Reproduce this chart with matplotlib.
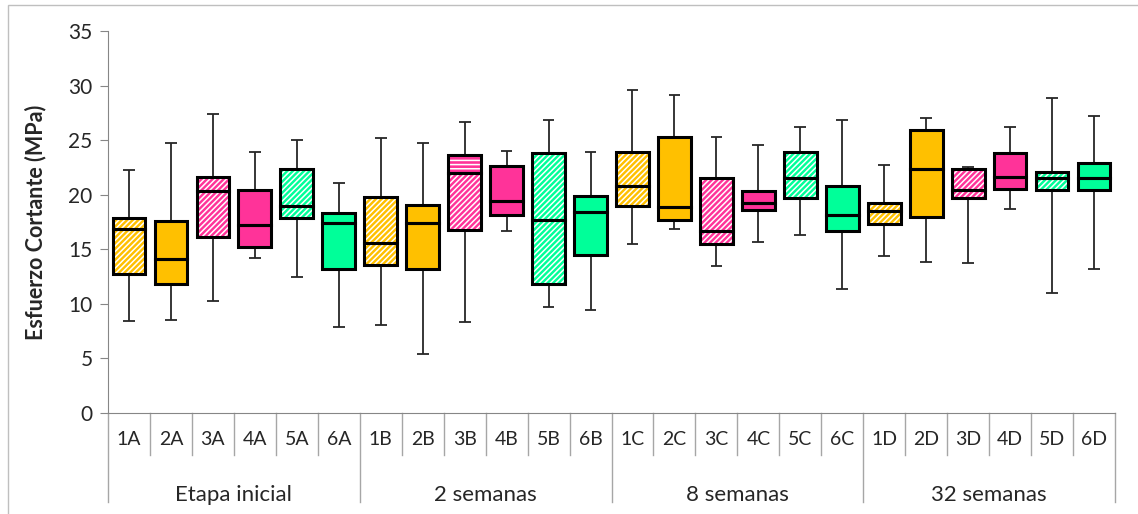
import matplotlib
matplotlib.use("Agg")
import matplotlib.pyplot as plt
from matplotlib.patches import Rectangle

# box data (MPa)
labels = ["1A", "2A", "3A", "4A", "5A", "6A",
          "1B", "2B", "3B", "4B", "5B", "6B",
          "1C", "2C", "3C", "4C", "5C", "6C",
          "1D", "2D", "3D", "4D", "5D", "6D"]
groups = ["Etapa inicial", "2 semanas", "8 semanas", "32 semanas"]
w_low = [8.4, 8.5, 10.3, 14.2, 12.5, 7.9,
         8.1, 5.4, 8.3, 16.7, 9.7, 9.4,
         15.5, 16.9, 13.5, 15.7, 16.3, 11.4,
         14.4, 13.8, 13.7, 18.7, 11.0, 13.2]
q1 = [12.7, 11.8, 16.1, 15.2, 17.9, 13.2,
      13.6, 13.2, 16.8, 18.1, 11.8, 14.5,
      19.0, 17.7, 15.5, 18.6, 19.7, 16.7,
      17.3, 18.0, 19.7, 20.5, 20.4, 20.4]
med = [16.9, 14.1, 20.3, 17.2, 19.0, 17.4,
       15.6, 17.4, 22.0, 19.4, 17.7, 18.4,
       20.8, 18.9, 16.7, 19.2, 21.5, 18.1,
       18.5, 22.4, 20.4, 21.6, 21.5, 21.5]
q3 = [17.9, 17.6, 21.6, 20.4, 22.4, 18.3,
      19.8, 19.1, 23.6, 22.6, 23.8, 19.9,
      23.9, 25.3, 21.5, 20.3, 23.9, 20.8,
      19.2, 25.9, 22.4, 23.8, 22.1, 22.9]
w_high = [22.3, 24.7, 27.4, 23.9, 25.0, 21.1,
          25.2, 24.7, 26.7, 24.0, 26.8, 23.9,
          29.6, 29.1, 25.3, 24.6, 26.2, 26.8,
          22.7, 27.0, 22.5, 26.2, 28.9, 27.2]

colors = ["#ffc000", "#ffc000", "#ff3399", "#ff3399", "#00ff99", "#00ff99"]
hatched = [True, False, True, False, True, False]

plt.rcParams["font.family"] = ["Lato", "DejaVu Sans"]
plt.rcParams["hatch.linewidth"] = 1.1

fig = plt.figure(figsize=(11.38, 5.14), dpi=100)
ax = fig.add_axes([108 / 1138, 1 - 413 / 514, (1115 - 108) / 1138, 382 / 514])

n = len(labels)
bw = 0.78
for i in range(n):
    x = i + 0.5
    c = colors[i % 6]
    # whiskers + caps
    ax.vlines(x, w_low[i], w_high[i], color="#262626", lw=1.3, zorder=1)
    ax.hlines([w_low[i], w_high[i]], x - 0.14, x + 0.14, color="#262626", lw=1.3, zorder=1)
    if hatched[i % 6]:
        lo_h = "//////"
        up_h = "----" if labels[i] == "3B" else "//////"
        ax.bar(x, med[i] - q1[i], bottom=q1[i], width=bw, color=c,
               hatch=lo_h, edgecolor="white", linewidth=0, zorder=2)
        ax.bar(x, q3[i] - med[i], bottom=med[i], width=bw, color=c,
               hatch=up_h, edgecolor="white", linewidth=0, zorder=2)
    else:
        ax.bar(x, q3[i] - q1[i], bottom=q1[i], width=bw, color=c,
               linewidth=0, zorder=2)
    ax.bar(x, med[i] - q1[i], bottom=q1[i], width=bw, fill=False,
           edgecolor="black", linewidth=2.2, zorder=3)
    ax.bar(x, q3[i] - med[i], bottom=med[i], width=bw, fill=False,
           edgecolor="black", linewidth=2.2, zorder=3)

ax.set_xlim(0, n)
ax.set_ylim(0, 35)
ax.set_yticks(range(0, 36, 5))
ax.tick_params(axis="y", length=6, color="#868686", labelsize=15,
               labelcolor="#262626", pad=5)
ax.set_xticks([])
for s in ["top", "right"]:
    ax.spines[s].set_visible(False)
ax.spines["left"].set_color("#868686")
ax.spines["bottom"].set_color("#868686")
ax.set_ylabel("Esfuerzo Cortante (MPa)", fontsize=15.5, fontweight="bold",
              color="#262626", labelpad=16)

# category axis below the plot
tr = ax.get_xaxis_transform()
for i in range(n + 1):
    ybot = -0.233 if i % 6 == 0 else -0.11
    ax.plot([i, i], [0, ybot], transform=tr, color="#a6a6a6", lw=1, clip_on=False)
for i, lab in enumerate(labels):
    ax.text(i + 0.5, -0.07, lab, transform=tr, ha="center", va="center",
            fontsize=14, color="#262626")
for g, name in enumerate(groups):
    ax.text(g * 6 + 3, -0.215, name, transform=tr, ha="center", va="center",
            fontsize=16, color="#262626")

# outer chart border
fig.patches.append(Rectangle((8 / 1138, -0.1), 2, 1 + 0.1 - 5 / 514,
                             transform=fig.transFigure, fill=False,
                             edgecolor="#bfbfbf", lw=1))

fig.savefig("out.png", dpi=100)
